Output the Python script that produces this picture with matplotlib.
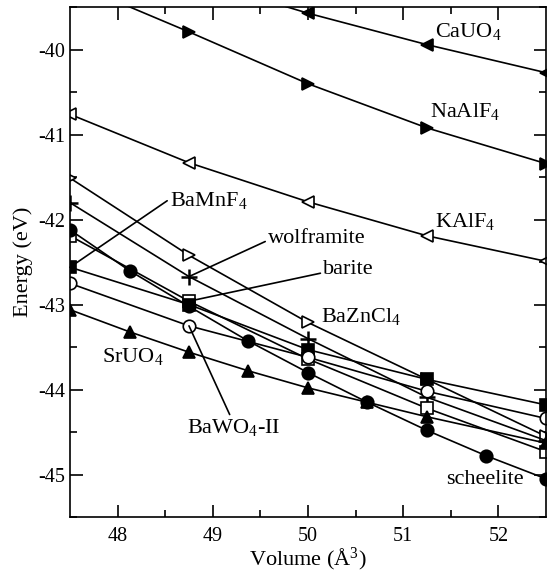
import matplotlib.pyplot as plt
import numpy as np

plt.rcParams['font.family'] = ['Liberation Serif', 'DejaVu Serif']
plt.rcParams['mathtext.fontset'] = 'custom'
plt.rcParams['mathtext.rm'] = 'Liberation Serif'
plt.rcParams['mathtext.it'] = 'Liberation Serif'
plt.rcParams['axes.unicode_minus'] = False

# volumes (A^3)
vol5 = [47.5, 48.75, 50.0, 51.25, 52.5]
vol9 = [47.5, 48.125, 48.75, 49.375, 50.0, 50.625, 51.25, 51.875, 52.5]
vol_sruo4 = [47.5, 48.125, 48.75, 49.375, 50.0, 50.625, 51.25, 52.5]
vol_cauo4 = [48.75, 50.0, 51.25, 52.5]
vol_naalf4 = [47.5, 48.75, 50.0, 51.25, 52.5]

# energies (eV)
e_cauo4 = [-39.15, -39.57, -39.94, -40.27]
e_naalf4 = [-39.2, -39.79, -40.40, -40.92, -41.34]
e_kalf4 = [-40.76, -41.33, -41.79, -42.19, -42.49]
e_baznc14 = [-41.51, -42.42, -43.21, -43.88, -44.55]
e_wolframite = [-41.80, -42.67, -43.40, -44.09, -44.60]
e_barite = [-42.19, -42.96, -43.64, -44.22, -44.73]
e_bamnf4 = [-42.56, -43.00, -43.53, -43.88, -44.18]
e_bawo4 = [-42.75, -43.25, -43.62, -44.02, -44.34]
e_scheelite = [-42.12, -42.60, -43.02, -43.43, -43.80, -44.15, -44.48, -44.78, -45.05]
e_sruo4 = [-43.06, -43.32, -43.56, -43.78, -43.98, -44.15, -44.32, -44.63]


def draw_chart():
    fig = plt.figure(figsize=(5.47, 5.76), dpi=100)
    ax = fig.add_axes([0.128, 0.1024, 0.870, 0.885])

    lw = 1.2
    ms = 9
    kw = dict(color='black', lw=lw, ms=ms, mec='black', mew=1.2)
    ax.plot(vol_cauo4, e_cauo4, marker='<', mfc='black', **kw)
    ax.plot(vol_naalf4, e_naalf4, marker='>', mfc='black', **kw)
    ax.plot(vol5, e_kalf4, marker='<', mfc='white', **kw)
    ax.plot(vol5, e_baznc14, marker='>', mfc='white', **kw)
    ax.plot(vol5, e_wolframite, marker='+', ms=11, color='black', lw=lw, mew=1.8)
    ax.plot(vol5, e_barite, marker='s', mfc='white', **kw)
    ax.plot(vol5, e_bamnf4, marker='s', mfc='black', **kw)
    ax.plot(vol5, e_bawo4, marker='o', mfc='white', **kw)
    ax.plot(vol_sruo4, e_sruo4, marker='^', mfc='black', **kw)
    ax.plot(vol9, e_scheelite, marker='o', mfc='black', **kw)

    ax.set_xlim(47.5, 52.5)
    ax.set_ylim(-45.5, -39.5)
    ax.set_xticks([48, 49, 50, 51, 52])
    ax.set_xticks(np.arange(48.5, 52.5, 1.0), minor=True)
    ax.set_yticks([-45, -44, -43, -42, -41, -40])
    ax.set_yticks(np.arange(-45.5, -39.4, 1.0), minor=True)
    ax.tick_params(which='both', direction='in', top=True, right=True,
                   labelsize=14.5, width=1.2)
    ax.tick_params(which='major', length=9)
    ax.tick_params(which='minor', length=5)
    ax.tick_params(axis='x', pad=7)
    for sp in ax.spines.values():
        sp.set_linewidth(1.2)

    ax.set_xlabel('Volume (Å$^3$)', fontsize=16, labelpad=0)
    ax.set_ylabel('Energy (eV)', fontsize=16)

    fs = 16
    ax.text(51.33, -39.79, 'CaUO$_4$', fontsize=fs, va='center')
    ax.text(51.28, -40.73, 'NaAlF$_4$', fontsize=fs, va='center')
    ax.text(51.33, -42.02, 'KAlF$_4$', fontsize=fs, va='center')
    ax.text(50.14, -43.14, 'BaZnCl$_4$', fontsize=fs, va='center')
    ax.text(47.84, -43.61, 'SrUO$_4$', fontsize=fs, va='center')
    ax.text(51.45, -45.06, 'scheelite', fontsize=fs, va='center')

    line = dict(arrowstyle='-', color='black', lw=lw, shrinkA=0, shrinkB=0)
    ax.annotate('BaMnF$_4$', xy=(47.5, -42.56), xytext=(48.55, -41.78),
                fontsize=fs, va='center', ha='left',
                arrowprops=dict(line, relpos=(0.0, 0.6)))
    ax.annotate('wolframite', xy=(48.75, -42.67), xytext=(49.58, -42.22),
                fontsize=fs, va='center', ha='left',
                arrowprops=dict(line, relpos=(0.0, 0.4)))
    ax.annotate('barite', xy=(48.75, -42.96), xytext=(50.16, -42.59),
                fontsize=fs, va='center', ha='left',
                arrowprops=dict(line, relpos=(0.0, 0.35)))
    ax.annotate('BaWO$_4$-II', xy=(48.75, -43.25), xytext=(48.73, -44.45),
                fontsize=fs, va='center', ha='left',
                arrowprops=dict(line, relpos=(0.47, 1.0)))

    fig.savefig('out.png')


if __name__ == '__main__':
    draw_chart()
